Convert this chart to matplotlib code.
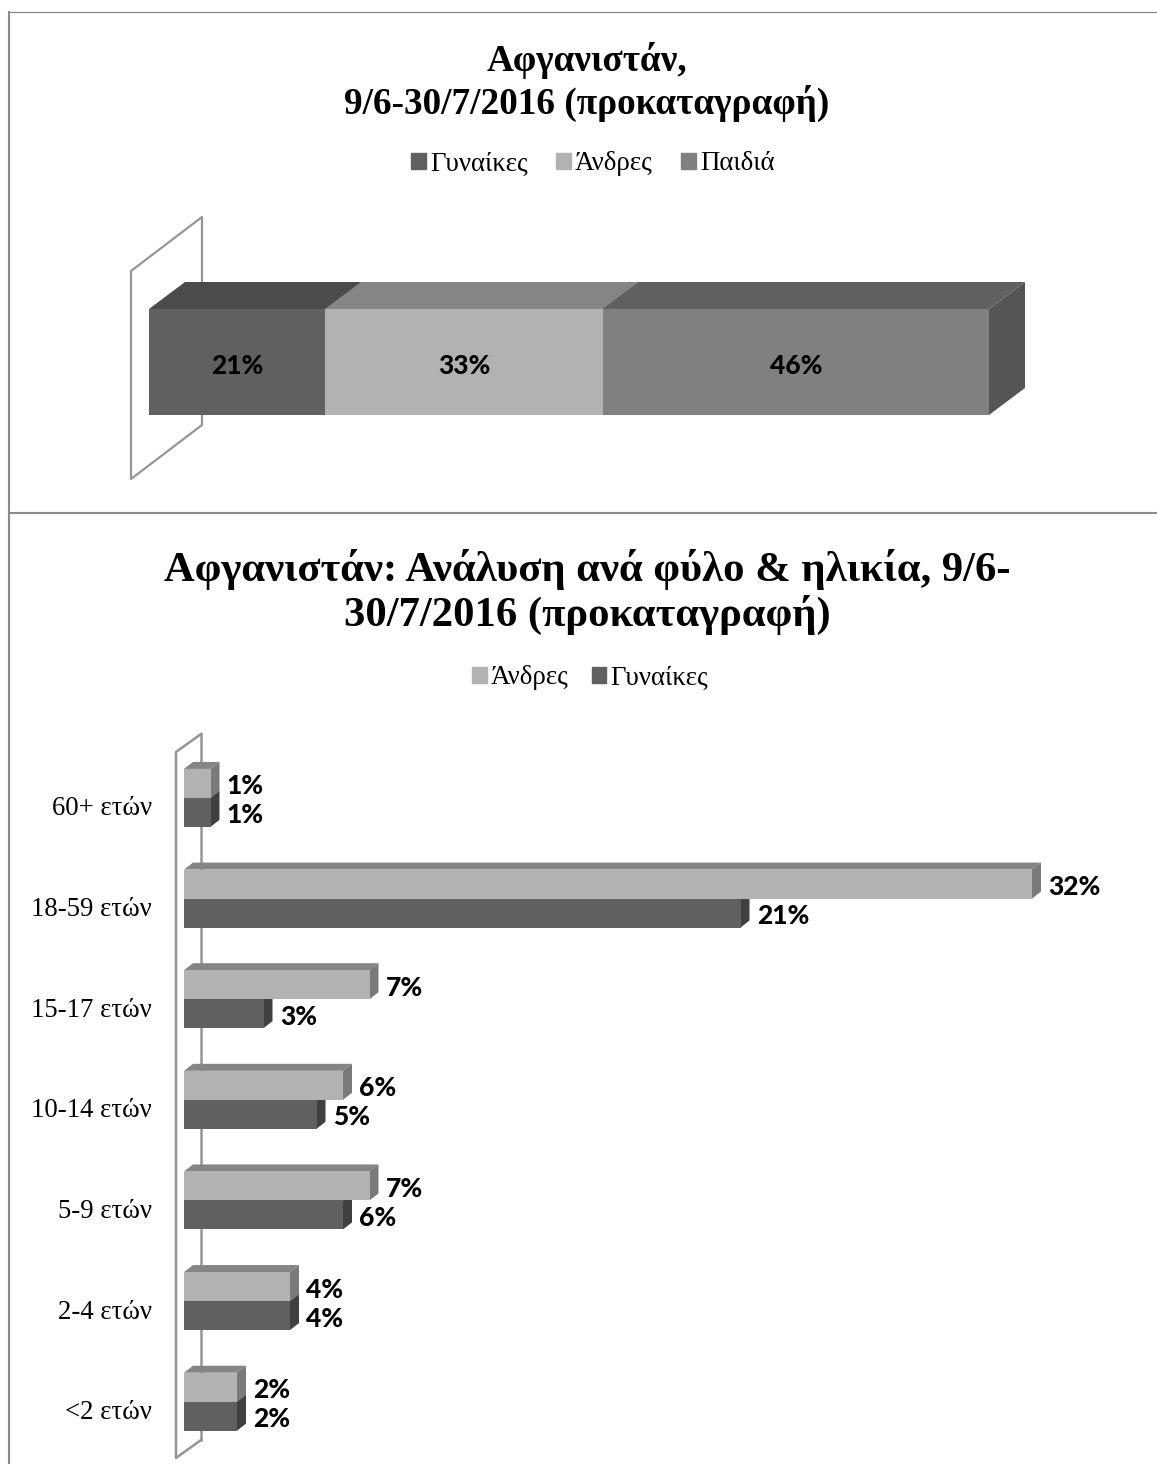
import matplotlib
matplotlib.use('Agg')
import matplotlib.pyplot as plt
from matplotlib.patches import Patch, Polygon
from matplotlib.lines import Line2D

W, H = 1157, 1464

# top chart
top_labels = ['Γυναίκες', 'Άνδρες', 'Παιδιά']
top_values = [21, 33, 46]

# bottom chart
ages = ['<2 ετών', '2-4 ετών', '5-9 ετών', '10-14 ετών', '15-17 ετών', '18-59 ετών', '60+ ετών']
men = [2, 4, 7, 6, 7, 32, 1]
women = [2, 4, 6, 5, 3, 21, 1]

DARK = '#606060'
LIGHT = '#b2b2b2'
MID = '#808080'
WALL = '#969696'
SERIF = 'Liberation Serif'

plt.rcParams['font.family'] = [SERIF]


def axes_px(fig, left, right, top, bottom):
    return fig.add_axes([left / W, 1 - bottom / H, (right - left) / W, (bottom - top) / H])


def box(ax, x0, x1, y0, y1, dx, dy, top_col, side_col, front_col, zo):
    ax.add_patch(Polygon([(x0, y1), (x1, y1), (x1 + dx, y1 + dy), (x0 + dx, y1 + dy)],
                         fc=top_col, ec='none', clip_on=False, zorder=zo))
    ax.add_patch(Polygon([(x1, y0), (x1 + dx, y0 + dy), (x1 + dx, y1 + dy), (x1, y1)],
                         fc=side_col, ec='none', clip_on=False, zorder=zo))
    ax.barh((y0 + y1) / 2, x1 - x0, height=y1 - y0, left=x0, color=front_col, zorder=zo + 0.5)


fig = plt.figure(figsize=(W / 100, H / 100), dpi=100, facecolor='white')

# panel borders, the right edge is cut off in the original
fig.add_artist(Line2D([9 / W, 9 / W], [0, 1 - 11.5 / H], color='#8a8a8a', lw=1.5))
fig.add_artist(Line2D([9 / W, 1], [1 - 11.5 / H, 1 - 11.5 / H], color='#8a8a8a', lw=0.9))
fig.add_artist(Line2D([9 / W, 1], [1 - 513 / H, 1 - 513 / H], color='#8a8a8a', lw=1.5))

# --- top chart ---
ax1 = axes_px(fig, 149, 989, 309, 415)
ax1.set_xlim(0, 100)
ax1.set_ylim(0, 1)
ax1.axis('off')
dx1 = 36 / 8.4
dy1 = 27 / 106
colors1 = [DARK, LIGHT, MID]
tops1 = ['#4b4b4b', '#858585', '#606060']
left = 0
for lab, v, c, t in zip(top_labels, top_values, colors1, tops1):
    box(ax1, left, left + v, 0, 1, dx1, dy1, t, '#555555', c, 3)
    ax1.text(left + v / 2, 0.46, f'{v}%', ha='center', va='center', family='Lato',
             weight='black', fontsize=19, color='black', zorder=5)
    left += v
# wall behind the bar
fig.add_artist(Line2D([x / W for x in [202, 202, 131, 131, 202, 202]],
                      [1 - y / H for y in [309, 217, 271, 479, 425, 415]], color=WALL, lw=1.6, zorder=0))
ax1.set_zorder(2)

fig.text(587 / W, 1 - 82 / H, 'Αφγανιστάν,\n9/6-30/7/2016 (προκαταγραφή)', ha='center', va='center',
         weight='bold', fontsize=26.8, linespacing=1.17)
fig.legend(handles=[Patch(color=c, label=l) for c, l in zip(colors1, top_labels)],
           loc='center', bbox_to_anchor=(593 / W, 1 - 164 / H), ncol=3, frameon=False, fontsize=19.4,
           handlelength=0.55, handleheight=0.55, handletextpad=0.15, columnspacing=1.05)

# --- bottom chart ---
ax2 = axes_px(fig, 184, 1157, 747.6, 1452)
ax2.set_xlim(0, 973 / 26.5)
ax2.set_ylim(-0.5, 6.5)
ax2.patch.set_alpha(0)
for s in ax2.spines.values():
    s.set_visible(False)
ax2.set_xticks([])
ax2.set_yticks([i - 0.08 for i in range(len(ages))])
ax2.set_yticklabels(ages, fontsize=19.3)
ax2.tick_params(axis='y', length=0, pad=23)
dx2 = 9 / 26.5
dy2 = 7 / 100.7
bh = 29 / 100.7
for i, (m, w) in enumerate(zip(men, women)):
    box(ax2, 0, w, i - bh, i, dx2, dy2, '#404040', '#404040', DARK, 3)
    box(ax2, 0, m, i, i + bh, dx2, dy2, '#858585', '#7a7a7a', LIGHT, 4)
    ax2.text(m + 0.62, i + bh / 2 - 0.03, f'{m}%', ha='left', va='center', family='Lato',
             weight='black', fontsize=19, zorder=6)
    ax2.text(w + 0.62, i - bh / 2 - 0.03, f'{w}%', ha='left', va='center', family='Lato',
             weight='black', fontsize=19, zorder=6)
ax2.set_zorder(2)
fig.add_artist(Line2D([201 / W, 201 / W], [1 - 734 / H, 1 - 1440 / H], color=WALL, lw=1.8, zorder=0))
fig.add_artist(Line2D([x / W for x in [201, 176, 176, 201]],
                      [1 - y / H for y in [734, 752, 1458, 1440]], color=WALL, lw=1.8, zorder=0))

fig.text(587 / W, 1 - 592 / H, 'Αφγανιστάν: Ανάλυση ανά φύλο & ηλικία, 9/6-\n30/7/2016 (προκαταγραφή)',
         ha='center', va='center', weight='bold', fontsize=30.7, linespacing=1.14)
fig.legend(handles=[Patch(color=LIGHT, label='Άνδρες'), Patch(color=DARK, label='Γυναίκες')],
           loc='center', bbox_to_anchor=(590 / W, 1 - 678 / H), ncol=2, frameon=False, fontsize=19.4,
           handlelength=0.55, handleheight=0.55, handletextpad=0.15, columnspacing=0.85)

fig.savefig('out.png', dpi=100)
